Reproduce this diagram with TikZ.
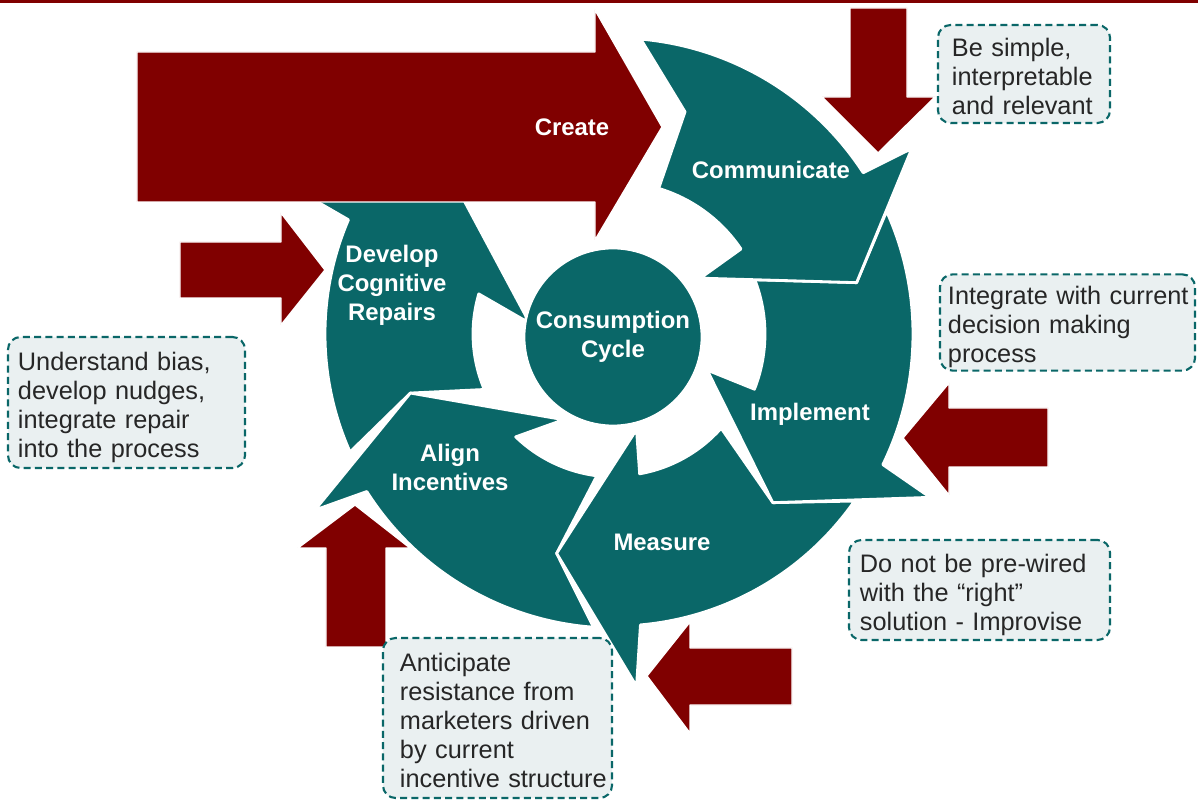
\documentclass[tikz,border=0pt]{standalone}
\usepackage{fontspec}
\setmainfont{Liberation Sans}
\usepackage{xcolor}
\usepackage{tikz}
\definecolor{cycleteal}{RGB}{10,103,104}
\definecolor{cyclered}{RGB}{128,0,0}
\definecolor{notefill}{RGB}{234,240,241}
\newcommand{\notelines}[1]{\raisebox{-4pt}[\height][\depth]{\begin{tabular}{@{}l@{}}#1\end{tabular}}}

\begin{document}
\begin{tikzpicture}[x=0.025cm, y=0.025cm,
	cyclearrow/.style={fill=cycleteal, draw=white, line width=2pt, line join=round},
	pusharrow/.style={fill=cyclered, draw=white, line width=1pt, line join=round},
	arrowtext/.style={text=white, font=\fontsize{17}{20.6}\selectfont\bfseries, align=center},
	tipbox/.style={draw=cycleteal, fill=notefill, dash pattern=on 5pt off 3pt, line width=1.5pt,
		rounded corners=9pt, align=left, text=black!85, font=\fontsize{18}{20.6}\selectfont},]

\useasboundingbox (-615,-467) rectangle (583,334);
\fill[white] (-615,-467) rectangle (583,334);
\fill[cyclered] (-615,331) rectangle (583,334);

% the five arrows of the ring, centre at the origin
\path[cyclearrow] (204:290) arc[start angle=204, end angle=156.8, radius=290] -- (155.75:343) -- (137:217)
	-- (172.8:86) -- (163.6:142) arc[start angle=163.6, end angle=203, radius=142] -- (196.1:213) -- cycle;
\path[cyclearrow] (-94.2:294) arc[start angle=-94.2, end angle=-147.6, radius=294] -- (-149.6:348) -- (-163.9:213)
	-- (-121:100) -- (-134:143) arc[start angle=-134, end angle=-97.3, radius=143] -- (-104.9:227) -- cycle;
\path[cyclearrow] (-34.9:292) arc[start angle=-34.9, end angle=-85, radius=292] -- (-86.5:353) -- (-104.9:227)
	-- (-77.3:98) -- (-80:142) arc[start angle=-80, end angle=-41.6, radius=142] -- (-46.9:231) -- cycle;
\path[cyclearrow] (24.3:298) arc[start angle=24.3, end angle=-26, radius=298] -- (-27.4:355) -- (-46.9:231)
	-- (-21.4:99) -- (-21.6:150) arc[start angle=-21.6, end angle=21.2, radius=150] -- (12:247) -- cycle;
\path[cyclearrow] (85:296) arc[start angle=85, end angle=33, radius=296] -- (32:350) -- (12:247)
	-- (33.2:102) -- (34:152) arc[start angle=34, end angle=73.3, radius=152] -- (72.5:233) -- cycle;

\node[circle, fill=cycleteal, draw=white, line width=2pt, minimum size=4.45cm, inner sep=0pt,
	arrowtext] (core) at (-2,-3) {Consumption\\Cycle};

% red push arrows
\path[pusharrow] (-478,132) -- (-478,282) -- (-20,282) -- (-20,324) -- (47,207) -- (-20,94) -- (-20,132) -- cycle;
\path[pusharrow] (235,326) -- (292,326) -- (292,237) -- (320,237) -- (263,181) -- (207,237) -- (235,237) -- cycle;
\path[pusharrow] (-435,36) -- (-435,92) -- (-334,92) -- (-334,121) -- (-290,64) -- (-334,9) -- (-334,36) -- cycle;
\path[pusharrow] (433,-74) -- (433,-133) -- (334,-133) -- (334,-161) -- (288,-104) -- (334,-49) -- (334,-74) -- cycle;
\path[pusharrow] (177,-314) -- (177,-371) -- (75,-371) -- (75,-399) -- (32,-342) -- (75,-288) -- (75,-314) -- cycle;
\path[pusharrow] (-289,-313) -- (-229,-313) -- (-229,-214) -- (-205,-214) -- (-260,-171) -- (-317,-214) -- (-289,-214) -- cycle;

\node[arrowtext] (create) at (-43,207) {Create};
\node[arrowtext] (comm) at (156,164) {Communicate};
\node[arrowtext] (repair) at (-223,49) {Develop\\Cognitive\\Repairs};
\node[arrowtext] (impl) at (195,-80) {Implement};
\node[arrowtext] (align) at (-165,-133) {Align\\Incentives};
\node[arrowtext] (meas) at (47,-208) {Measure};

\node[tipbox, text width=3.6cm, inner xsep=0.35cm, minimum height=2.45cm] (commtip) at (409,260)
	{\notelines{Be simple,\\interpretable\\and relevant}};
\node[tipbox, text width=5.975cm, inner xsep=0.2cm, minimum height=2.225cm] (impltip) at (452.5,11.5)
	{\notelines{Integrate with current\\decision making\\process}};
\node[tipbox, text width=5.975cm, inner xsep=0.275cm, minimum height=2.5cm] (meastip) at (364.5,-256)
	{\notelines{Do not be pre-wired\\with the “right”\\solution - Improvise}};
\node[tipbox, text width=4.875cm, inner xsep=0.425cm, minimum height=4cm] (aligntip) at (-117.5,-384)
	{\notelines{Anticipate\\resistance from\\marketers driven\\by current\\incentive structure}};
\node[tipbox, text width=5.425cm, inner xsep=0.25cm, minimum height=3.275cm] (repairtip) at (-488.5,-68.5)
	{\notelines{Understand bias,\\develop nudges,\\integrate repair\\into the process}};

\end{tikzpicture}
\end{document}
